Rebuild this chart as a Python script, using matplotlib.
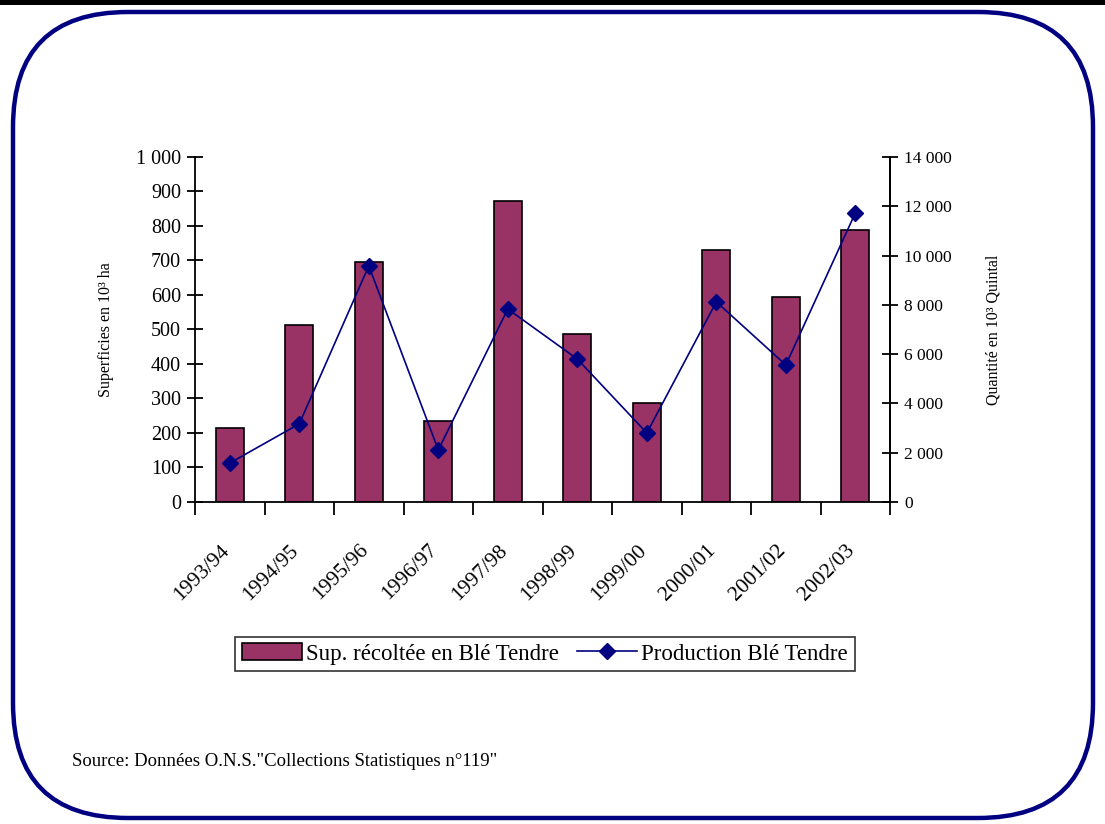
import matplotlib.pyplot as plt
import matplotlib.transforms as mtransforms
import numpy as np
from matplotlib.patches import FancyBboxPatch, Rectangle
from matplotlib.ticker import FuncFormatter

plt.rcParams['font.family'] = ['Liberation Serif', 'DejaVu Serif']

campagnes = ['1993/94', '1994/95', '1995/96', '1996/97', '1997/98',
             '1998/99', '1999/00', '2000/01', '2001/02', '2002/03']
# superficie recoltee (10^3 ha)
superficie = [215, 513, 696, 235, 872, 487, 287, 730, 594, 788]
# production (10^3 quintaux)
production = [1580, 3170, 9580, 2110, 7830, 5800, 2800, 8120, 5560, 11730]

bar_color = '#993366'
line_color = '#000080'

fig = plt.figure(figsize=(11.05, 8.24), dpi=100)

# cadre arrondi + bande noire en haut
fig.patches.append(Rectangle((0, 8.19), 11.05, 0.05, transform=fig.dpi_scale_trans,
                             facecolor='black', edgecolor='none', zorder=-1))
cadre = FancyBboxPatch((0.13 + 1.15, 0.06 + 1.15), 10.80 - 2.3, 8.06 - 2.3,
                       boxstyle='round,pad=1.15', transform=fig.dpi_scale_trans,
                       facecolor='none', edgecolor=line_color, linewidth=3.2, zorder=-1)
fig.patches.append(cadre)

ax = fig.add_axes([0.1765, 0.3908, 0.6290, 0.4187])
ax2 = ax.twinx()
ax.patch.set_alpha(0)
ax2.patch.set_alpha(0)

x = np.arange(len(campagnes))
ax.bar(x, superficie, width=0.4, color=bar_color, edgecolor='black', linewidth=1.2, zorder=2)
ax2.plot(x, production, color=line_color, linewidth=1.2, marker='D', markersize=8.5,
         markerfacecolor=line_color, markeredgecolor=line_color, zorder=3)

ax.set_xlim(-0.5, len(campagnes) - 0.5)
ax.set_ylim(0, 1000)
ax2.set_ylim(0, 14000)
ax.set_yticks(np.arange(0, 1001, 100))
ax2.set_yticks(np.arange(0, 14001, 2000))

fmt = FuncFormatter(lambda v, p: '{:,.0f}'.format(v).replace(',', ' '))
ax.yaxis.set_major_formatter(fmt)
ax2.yaxis.set_major_formatter(fmt)

for a in (ax, ax2):
    a.spines['top'].set_visible(False)
    for s in a.spines.values():
        s.set_linewidth(1.3)
ax2.spines['left'].set_visible(False)
ax2.spines['bottom'].set_visible(False)

ax.tick_params(axis='y', direction='inout', length=12, width=1.3, labelsize=14.5, pad=4)
ax2.tick_params(axis='y', direction='inout', length=12, width=1.3, labelsize=12.5, pad=4)

# graduations entre les categories, libelles au centre
ax.set_xticks(np.arange(-0.5, len(campagnes)), minor=False)
ax.set_xticklabels([])
ax.tick_params(axis='x', which='major', direction='out', length=9, width=1.3)
ax.set_xticks(x, minor=True)
ax.set_xticklabels(campagnes, minor=True, rotation=45, ha='right', va='top',
                   rotation_mode='anchor', fontsize=15.5)
ax.tick_params(axis='x', which='minor', length=0, pad=28)
shift = mtransforms.ScaledTranslation(-10 / 100, 0, fig.dpi_scale_trans)
for lab in ax.get_xticklabels(minor=True):
    lab.set_transform(lab.get_transform() + shift)

ax.set_ylabel('Superficies en 10³ ha', fontsize=11.5, labelpad=16)
ax2.set_ylabel('Quantité en 10³ Quintal', fontsize=11.5, labelpad=24)

h1 = ax.patches[0]
h2 = ax2.lines[0]
leg = fig.legend([h1, h2], ['Sup. récoltée en Blé Tendre', 'Production Blé Tendre'],
                 loc='center', bbox_to_anchor=(545 / 1105, 1 - 654 / 824), ncol=2,
                 fontsize=16.5, frameon=True, fancybox=False, edgecolor='black',
                 handlelength=2.6, handletextpad=0.2, columnspacing=0.8,
                 borderpad=0.3)
leg.get_frame().set_linewidth(1.2)

fig.text(72 / 1105, 1 - 762 / 824, 'Source: Données O.N.S."Collections Statistiques n°119"',
         fontsize=13.5, va='center', ha='left')

fig.savefig('out.png', dpi=100)
